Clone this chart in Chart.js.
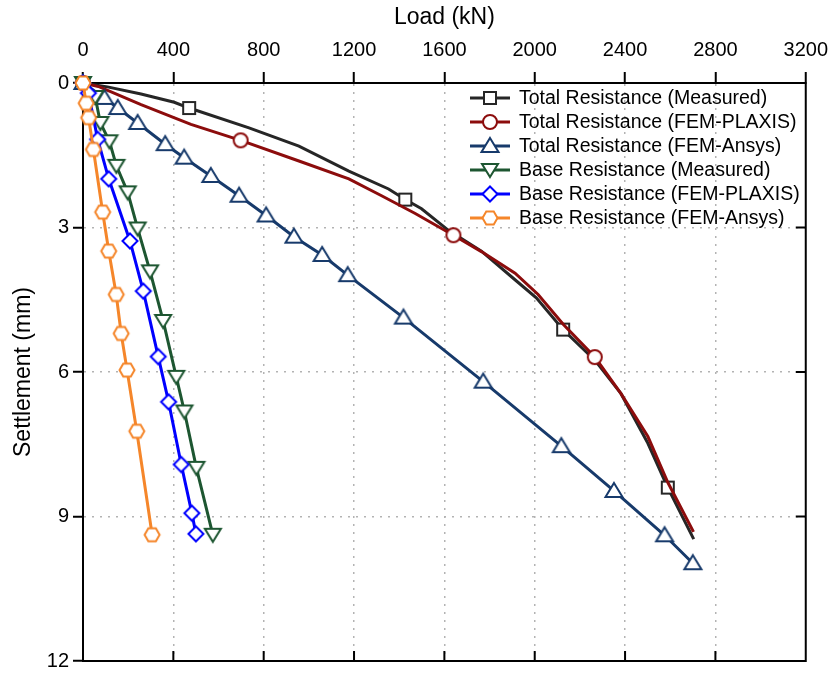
<!DOCTYPE html>
<html>
<head>
<meta charset="utf-8">
<script src="https://cdn.jsdelivr.net/npm/chart.js@4.4.1/dist/chart.umd.min.js"></script>
<style>
  html, body { margin: 0; padding: 0; background: #fff; }
  #wrap { width: 838px; height: 677px; }
</style>
</head>
<body>
<div id="wrap"><canvas id="grafico" width="838" height="677"></canvas></div>
<script>
// eixos
const cargaTicks = [0, 400, 800, 1200, 1600, 2000, 2400, 2800, 3200];
const recalqueTicks = [0, 3, 6, 9, 12];

const nomes = [
  "Total Resistance (Measured)",
  "Total Resistance (FEM-PLAXIS)",
  "Total Resistance (FEM-Ansys)",
  "Base Resistance (Measured)",
  "Base Resistance (FEM-PLAXIS)",
  "Base Resistance (FEM-Ansys)"
];

// Total Resistance (Measured)
const totalMedidoCarga = [0, 108, 257, 404, 470, 735, 956, 1177, 1353, 1427, 1499, 1618, 1764, 1914, 2007, 2126, 2267, 2382, 2501, 2589, 2704];
const totalMedidoRecalque = [0, 0.08, 0.23, 0.40, 0.52, 0.93, 1.31, 1.83, 2.20, 2.42, 2.61, 3.06, 3.49, 4.09, 4.46, 5.12, 5.76, 6.45, 7.48, 8.40, 9.47];
const totalMedidoMarcas = [0, 4, 9, 15, 19];

// Total Resistance (FEM-PLAXIS)
const totalPlaxisCarga = [0, 73, 257, 478, 698, 956, 1177, 1322, 1471, 1640, 1764, 1913, 2015, 2126, 2266, 2382, 2501, 2589, 2703];
const totalPlaxisRecalque = [0, 0.08, 0.45, 0.86, 1.19, 1.62, 1.99, 2.34, 2.71, 3.16, 3.50, 3.95, 4.39, 5.01, 5.69, 6.45, 7.34, 8.29, 9.32];
const totalPlaxisMarcas = [0, 4, 9, 14];

// Total Resistance (FEM-Ansys)
const totalAnsysCarga = [0, 95, 154, 242, 364, 448, 566, 691, 811, 934, 1059, 1172, 1419, 1772, 2118, 2351, 2575, 2700];
const totalAnsysRecalque = [0, 0.31, 0.52, 0.83, 1.27, 1.55, 1.93, 2.34, 2.75, 3.19, 3.57, 3.99, 4.87, 6.20, 7.54, 8.47, 9.39, 9.97];

// Base Resistance (Measured)
const baseMedidoCarga = [0, 54, 77, 117, 148, 198, 242, 297, 355, 413, 449, 502, 575];
const baseMedidoRecalque = [0, 0.29, 0.83, 1.21, 1.72, 2.27, 3.02, 3.91, 4.94, 6.10, 6.82, 7.99, 9.38];

// Base Resistance (FEM-PLAXIS)
const basePlaxisCarga = [0, 24, 65, 114, 208, 267, 333, 379, 435, 482, 500];
const basePlaxisRecalque = [0, 0.21, 1.17, 1.99, 3.28, 4.32, 5.68, 6.62, 7.92, 8.93, 9.36];

// Base Resistance (FEM-Ansys)
const baseAnsysCarga = [0, 14, 25, 46, 87, 114, 147, 169, 195, 238, 306];
const baseAnsysRecalque = [0, 0.42, 0.72, 1.38, 2.68, 3.49, 4.39, 5.20, 5.96, 7.23, 9.38];

const cores = ["#262626", "#8c0c0c", "#173a6b", "#1d5631", "#0000ff", "#f5862a"];
const fonte = 'Arial, "Liberation Sans", sans-serif';

function pontos(cargas, recalques) {
  return cargas.map((c, i) => ({ x: c, y: recalques[i] }));
}

function marcador(tipo, cor) {
  const c = document.createElement("canvas");
  c.width = 22;
  c.height = 22;
  const g = c.getContext("2d");
  const m = 11;
  g.lineWidth = 2;
  g.strokeStyle = cor;
  g.fillStyle = "#fff";
  g.beginPath();
  if (tipo === "quadrado") {
    g.rect(m - 6, m - 6, 12, 12);
  } else if (tipo === "circulo") {
    g.arc(m, m, 7, 0, Math.PI * 2);
  } else if (tipo === "triangulo") {
    g.moveTo(m, m - 8);
    g.lineTo(m + 8.5, m + 6);
    g.lineTo(m - 8.5, m + 6);
    g.closePath();
  } else if (tipo === "invertido") {
    g.moveTo(m, m + 7);
    g.lineTo(m + 8, m - 6);
    g.lineTo(m - 8, m - 6);
    g.closePath();
  } else if (tipo === "losango") {
    g.moveTo(m, m - 7.5);
    g.lineTo(m + 7.5, m);
    g.lineTo(m, m + 7.5);
    g.lineTo(m - 7.5, m);
    g.closePath();
  } else if (tipo === "hexagono") {
    for (let k = 0; k < 6; k++) {
      const a = (Math.PI / 3) * k;
      const px = m + 7.5 * Math.cos(a);
      const py = m + 7.5 * Math.sin(a);
      if (k === 0) g.moveTo(px, py); else g.lineTo(px, py);
    }
    g.closePath();
  }
  g.fill();
  g.stroke();
  return c;
}

const tipos = ["quadrado", "circulo", "triangulo", "invertido", "losango", "hexagono"];
const imagens = tipos.map((t, i) => marcador(t, cores[i]));

const series = [
  { dados: pontos(totalMedidoCarga, totalMedidoRecalque), marcas: totalMedidoMarcas },
  { dados: pontos(totalPlaxisCarga, totalPlaxisRecalque), marcas: totalPlaxisMarcas },
  { dados: pontos(totalAnsysCarga, totalAnsysRecalque), marcas: null },
  { dados: pontos(baseMedidoCarga, baseMedidoRecalque), marcas: null },
  { dados: pontos(basePlaxisCarga, basePlaxisRecalque), marcas: null },
  { dados: pontos(baseAnsysCarga, baseAnsysRecalque), marcas: null }
];

const datasets = series.map((s, i) => ({
  label: nomes[i],
  data: s.dados,
  borderColor: cores[i],
  backgroundColor: cores[i],
  borderWidth: 3,
  tension: 0,
  clip: false,
  order: 6 - i,
  pointStyle: imagens[i],
  pointRadius: (ctx) => (!s.marcas || s.marcas.includes(ctx.dataIndex) ? 6 : 0)
}));

// moldura sólida com ticks para dentro (baixo e direita)
const moldura = {
  id: "moldura",
  beforeDatasetsDraw(chart) {
    const { ctx, chartArea: a, scales } = chart;
    ctx.save();
    ctx.strokeStyle = "#000";
    ctx.lineWidth = 2;
    ctx.setLineDash([]);
    ctx.beginPath();
    ctx.rect(a.left, a.top, a.right - a.left, a.bottom - a.top);
    cargaTicks.forEach((v) => {
      const x = scales.x.getPixelForValue(v);
      ctx.moveTo(x, a.bottom);
      ctx.lineTo(x, a.bottom - 10);
    });
    recalqueTicks.forEach((v) => {
      const y = scales.y.getPixelForValue(v);
      ctx.moveTo(a.right, y);
      ctx.lineTo(a.right - 10, y);
    });
    ctx.stroke();
    ctx.restore();
  }
};

// legenda dentro da área do gráfico
const legenda = {
  id: "legenda",
  afterDraw(chart) {
    const { ctx } = chart;
    ctx.save();
    ctx.font = "19.5px " + fonte;
    ctx.textBaseline = "middle";
    ctx.fillStyle = "#000";
    nomes.forEach((nome, i) => {
      const y = 98 + i * 24;
      ctx.strokeStyle = cores[i];
      ctx.lineWidth = 3;
      ctx.beginPath();
      ctx.moveTo(470, y);
      ctx.lineTo(510, y);
      ctx.stroke();
      const img = imagens[i];
      ctx.drawImage(img, 490 - img.width / 2, y - img.height / 2);
      ctx.fillText(nome, 519, y + 1);
    });
    ctx.restore();
  }
};

const gradeCor = (max) => (ctx) =>
  ctx.tick && (ctx.tick.value === 0 || ctx.tick.value === max) ? "rgba(0,0,0,0)" : "#b3b3b3";

new Chart(document.getElementById("grafico"), {
  type: "line",
  data: { datasets },
  options: {
    responsive: false,
    devicePixelRatio: 1,
    animation: false,
    layout: { padding: { top: 0, left: 0, right: 27, bottom: 10 } },
    plugins: {
      legend: { display: false },
      tooltip: { enabled: false }
    },
    scales: {
      x: {
        type: "linear",
        position: "top",
        min: 0,
        max: 3200,
        afterFit: (s) => { s.height = 83; },
        afterBuildTicks: (s) => { s.ticks = cargaTicks.map((v) => ({ value: v })); },
        ticks: {
          color: "#000",
          font: { family: fonte, size: 20 },
          padding: 10,
          maxRotation: 0,
          callback: (v) => String(v)
        },
        grid: {
          color: gradeCor(3200),
          lineWidth: 1.5,
          drawTicks: true,
          tickLength: 11,
          tickColor: "#000",
          tickWidth: 2,
          tickBorderDash: []
        },
        border: { display: true, color: "#000", width: 2, dash: [2, 6] },
        title: { display: true, text: "Load (kN)", color: "#000", font: { family: fonte, size: 23 }, padding: { top: 4, bottom: 0 } }
      },
      y: {
        type: "linear",
        position: "left",
        reverse: true,
        min: 0,
        max: 12,
        afterFit: (s) => { s.width = 83; },
        afterBuildTicks: (s) => { s.ticks = recalqueTicks.map((v) => ({ value: v })); },
        ticks: { color: "#000", font: { family: fonte, size: 20 }, padding: 4, callback: (v) => String(v) },
        grid: {
          color: gradeCor(12),
          lineWidth: 1.5,
          drawTicks: true,
          tickLength: 10,
          tickColor: "#000",
          tickWidth: 2,
          tickBorderDash: []
        },
        border: { display: true, color: "#000", width: 2, dash: [2, 6] },
        title: { display: true, text: "Settlement (mm)", color: "#000", font: { family: fonte, size: 23 }, padding: { top: 10, bottom: 0 } }
      }
    }
  },
  plugins: [moldura, legenda]
});
</script>
</body>
</html>
